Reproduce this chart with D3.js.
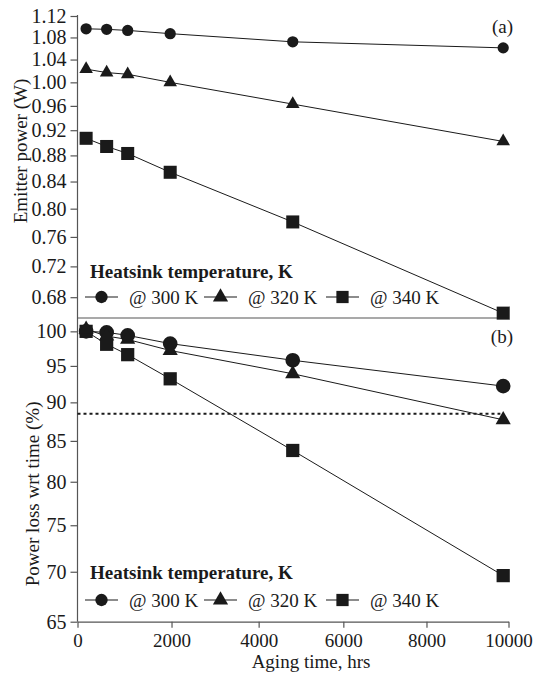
<!DOCTYPE html>
<html>
<head>
<meta charset="utf-8">
<script src="https://cdn.jsdelivr.net/npm/d3@7"></script>
<style>
  body { margin: 0; background: #fff; }
  svg { display: block; font-family: "Liberation Serif", "Times New Roman", serif; }
</style>
</head>
<body>
<div id="chart"></div>
<script>
// Data
const agingHrs = [160, 580, 1030, 1970, 4800, 9870];
const seriesNames = ["@ 300 K", "@ 320 K", "@ 340 K"];
const seriesShapes = ["circle", "triangle", "square"];

// (a) emitter power, W
const power300 = [1.096, 1.095, 1.093, 1.087, 1.072, 1.061];
const power320 = [1.023, 1.017, 1.014, 1.000, 0.963, 0.902];
const power340 = [0.907, 0.894, 0.883, 0.854, 0.781, 0.660];

// (b) power relative to start, %
const loss300 = [100, 99.85, 99.4, 98.2, 95.8, 92.2];
const loss320 = [100.3, 99.3, 98.8, 97.2, 93.9, 87.7];
const loss340 = [100, 98.1, 96.6, 93.2, 83.8, 69.6];
const thresholdPct = 88.5;

const powerTicks = [0.68, 0.72, 0.76, 0.80, 0.84, 0.88, 0.92, 0.96, 1.00, 1.04, 1.08, 1.12];
const lossTicks = [65, 70, 75, 80, 85, 90, 95, 100];
const timeTicks = [0, 2000, 4000, 6000, 8000, 10000];

const width = 535, height = 679;
const left = 77.5, right = 508.5;
const topA = 16, splitY = 318, bottomB = 621.7;
const axisColor = "#555";
const ink = "#1a1a1a";

const svg = d3.select("#chart").append("svg")
    .attr("width", width)
    .attr("height", height);

const x = d3.scalePow().exponent(0.946).domain([0, 10000]).range([left, right]);
const yA = d3.scalePow().exponent(0.2).domain([0.654, 1.12]).range([splitY, topA]);
const yB = d3.scaleLog().domain([65, 102]).range([bottomB, splitY]);

const symbolFor = (shape, size) => {
    if (shape === "circle") return d3.symbol(d3.symbolCircle, size)();
    if (shape === "triangle") return d3.symbol(d3.symbolTriangle, size)();
    return d3.symbol(d3.symbolSquare, size)();
};

const drawSeries = (yScale, values, shape, sizes) => {
    const line = d3.line().x((d, i) => x(agingHrs[i])).y(d => yScale(d));
    svg.append("path")
        .attr("d", line(values))
        .attr("fill", "none")
        .attr("stroke", ink)
        .attr("stroke-width", 1);
    svg.selectAll(null)
        .data(values)
        .enter()
        .append("path")
        .attr("d", symbolFor(shape, sizes[shape]))
        .attr("transform", (d, i) => `translate(${x(agingHrs[i])},${yScale(d)})`)
        .attr("fill", ink);
};

const drawLegend = (titleY, rowY) => {
    svg.append("text")
        .attr("x", 90)
        .attr("y", titleY)
        .attr("font-size", 19)
        .attr("font-weight", "bold")
        .attr("fill", ink)
        .text("Heatsink temperature, K");
    const itemX = [85, 204, 326];
    const legendSizes = { circle: 120, triangle: 100, square: 150 };
    seriesNames.forEach((name, i) => {
        const x0 = itemX[i];
        svg.append("line")
            .attr("x1", x0).attr("x2", x0 + 33)
            .attr("y1", rowY).attr("y2", rowY)
            .attr("stroke", ink).attr("stroke-width", 1.2);
        svg.append("path")
            .attr("d", symbolFor(seriesShapes[i], legendSizes[seriesShapes[i]]))
            .attr("transform", `translate(${x0 + 16.5},${rowY})`)
            .attr("fill", ink);
        svg.append("text")
            .attr("x", x0 + 44)
            .attr("y", rowY + 6.5)
            .attr("font-size", 19)
            .attr("fill", ink)
            .text(name);
    });
};

// ---- panel (a)
const axisA = svg.append("g")
    .attr("transform", `translate(${left},0)`)
    .call(d3.axisLeft(yA).tickValues(powerTicks).tickFormat(d3.format(".2f")).tickSize(7).tickSizeOuter(0));
axisA.select(".domain").attr("d", `M0,${topA - 1}V${splitY}`);

// ---- panel (b)
const axisB = svg.append("g")
    .attr("transform", `translate(${left},0)`)
    .call(d3.axisLeft(yB).tickValues(lossTicks).tickFormat(d3.format("d")).tickSize(7).tickSizeOuter(0));
axisB.select(".domain").attr("d", `M0,${splitY}V${bottomB}`);

const axisX = svg.append("g")
    .attr("transform", `translate(0,${bottomB})`)
    .call(d3.axisBottom(x).tickValues(timeTicks).tickFormat(d3.format("d")).tickSize(6).tickSizeOuter(0));

[axisA, axisB, axisX].forEach(g => {
    g.attr("font-family", null).attr("font-size", null);
    g.selectAll(".domain, line").attr("stroke", axisColor).attr("stroke-width", 1.2);
});
[axisA, axisB].forEach(g => {
    g.selectAll("text").attr("font-size", 20).attr("fill", ink).attr("dx", "-0.05em");
});
axisX.selectAll("text").attr("font-size", 19).attr("fill", ink).attr("dy", "0.85em");

// separator between the panels
svg.append("line")
    .attr("x1", left).attr("x2", right)
    .attr("y1", splitY).attr("y2", splitY)
    .attr("stroke", axisColor)
    .attr("stroke-width", 1.2);

// threshold line
svg.append("line")
    .attr("x1", x(0)).attr("x2", x(9800))
    .attr("y1", yB(thresholdPct)).attr("y2", yB(thresholdPct))
    .attr("stroke", ink)
    .attr("stroke-width", 2)
    .attr("stroke-dasharray", "3,3");

const sizesA = { circle: 100, triangle: 80, square: 170 };
const sizesB = { circle: 170, triangle: 100, square: 175 };

drawSeries(yA, power300, "circle", sizesA);
drawSeries(yA, power320, "triangle", sizesA);
drawSeries(yA, power340, "square", sizesA);

drawSeries(yB, loss340, "square", sizesB);
drawSeries(yB, loss300, "circle", sizesB);
drawSeries(yB, loss320, "triangle", sizesB);

drawLegend(278, 297);
drawLegend(579, 600);

// panel tags
svg.append("text").attr("x", 513).attr("y", 33).attr("text-anchor", "end")
    .attr("font-size", 19).attr("fill", ink).text("(a)");
svg.append("text").attr("x", 513).attr("y", 343).attr("text-anchor", "end")
    .attr("font-size", 19).attr("fill", ink).text("(b)");

// axis titles
svg.append("text")
    .attr("transform", `translate(27,${(topA + splitY) / 2 - 16}) rotate(-90)`)
    .attr("text-anchor", "middle")
    .attr("font-size", 19)
    .attr("fill", ink)
    .text("Emitter power (W)");
svg.append("text")
    .attr("transform", `translate(39,${(splitY + bottomB) / 2 + 24}) rotate(-90)`)
    .attr("text-anchor", "middle")
    .attr("font-size", 19)
    .attr("fill", ink)
    .text("Power loss wrt time (%)");
svg.append("text")
    .attr("x", 311)
    .attr("y", 668)
    .attr("text-anchor", "middle")
    .attr("font-size", 19)
    .attr("fill", ink)
    .text("Aging time, hrs");
</script>
</body>
</html>
